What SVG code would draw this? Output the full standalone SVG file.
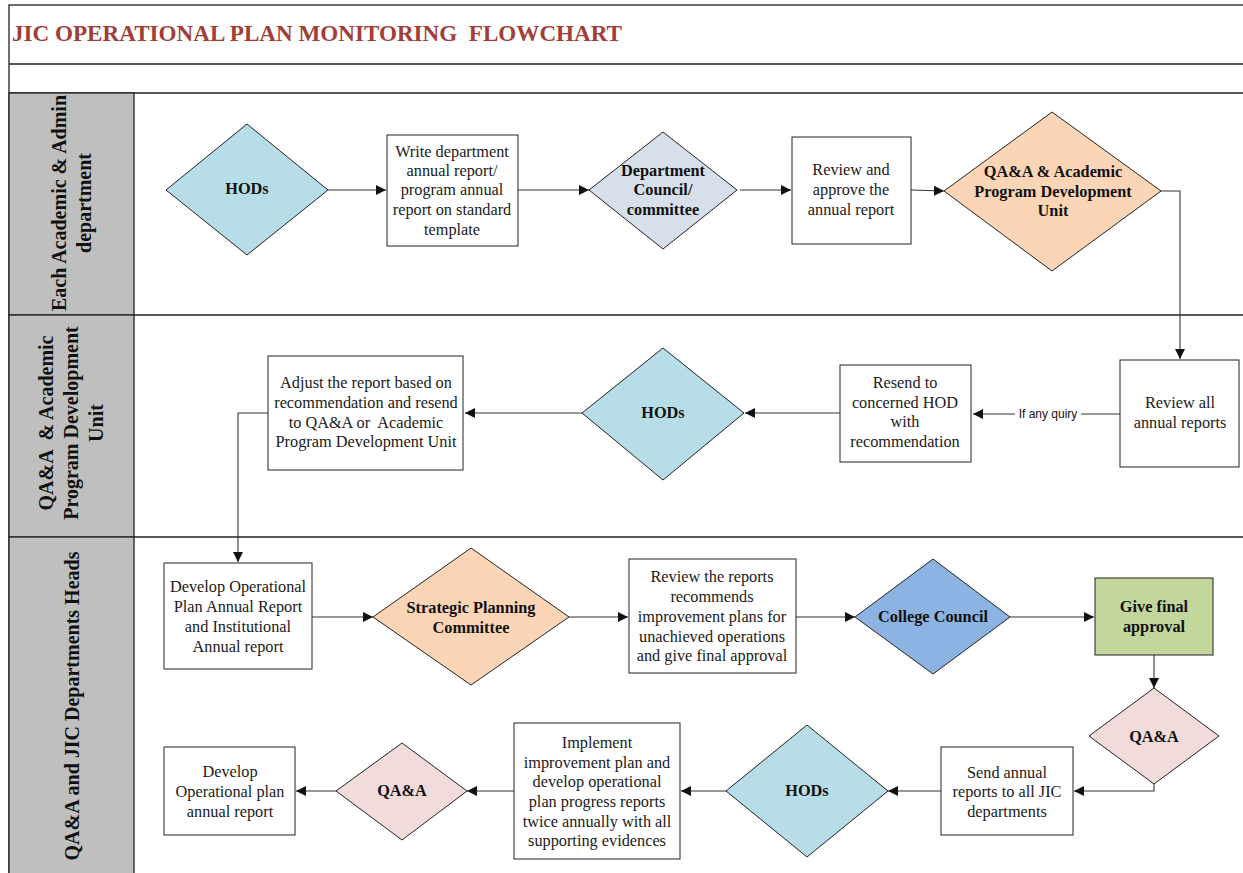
<svg xmlns="http://www.w3.org/2000/svg" width="1243" height="873" viewBox="0 0 1243 873">
<style>
.frame{fill:none;stroke:#222;stroke-width:1.3}
.hdr{fill:#bfbfbf;stroke:#222;stroke-width:1.3}
.box{fill:#fff;stroke:#222;stroke-width:1}
.dia{stroke:#222;stroke-width:1}
.t{font-family:"Liberation Serif","Times New Roman",serif;font-size:16.3px;fill:#1a1a1a;text-anchor:middle}
.b{font-family:"Liberation Serif","Times New Roman",serif;font-size:16.3px;font-weight:bold;fill:#111;text-anchor:middle}
.lane{font-family:"Liberation Serif","Times New Roman",serif;font-size:20px;font-weight:bold;fill:#111;text-anchor:middle}
.title{font-family:"Liberation Serif","Times New Roman",serif;font-size:24px;font-weight:bold;fill:#a23d37}
.lbl{font-family:"Liberation Sans",Arial,sans-serif;font-size:12px;fill:#111;text-anchor:middle}
.c{fill:none;stroke:#333;stroke-width:1.1}
</style>
<defs>
<marker id="arr" viewBox="0 0 10 10" refX="10" refY="5" markerWidth="10" markerHeight="10" markerUnits="userSpaceOnUse" orient="auto">
<path d="M0,0 L10,5 L0,10 Z" fill="#111"/>
</marker>
</defs>
<rect width="1243" height="873" fill="#fff"/>
<g id="frame">
<rect class="frame" x="9" y="5" width="1250" height="880"/>
<line class="frame" x1="9" y1="64" x2="1243" y2="64"/>
<line class="frame" x1="9" y1="93" x2="1243" y2="93"/>
<line class="frame" x1="9" y1="315" x2="1243" y2="315"/>
<line class="frame" x1="9" y1="537" x2="1243" y2="537"/>
<text class="title" x="12" y="41" textLength="610" lengthAdjust="spacingAndGlyphs" xml:space="preserve">JIC OPERATIONAL PLAN MONITORING  FLOWCHART</text>
</g>
<g id="lane-headers">
<rect class="hdr" x="9" y="93" width="125" height="222"/>
<rect class="hdr" x="9" y="315" width="125" height="222"/>
<rect class="hdr" x="9" y="537" width="125" height="340"/>
<text class="lane" transform="translate(72,203) rotate(-90)"><tspan x="0" y="-6">Each Academic &amp; Admin</tspan><tspan x="0" y="19">department</tspan></text>
<text class="lane" transform="translate(72,423) rotate(-90)" xml:space="preserve"><tspan x="0" y="-19">QA&amp;A  &amp; Academic</tspan><tspan x="0" y="6">Program Development</tspan><tspan x="0" y="31">Unit</tspan></text>
<text class="lane" transform="translate(72,706) rotate(-90)"><tspan x="0" y="7">QA&amp;A and JIC Departments Heads</tspan></text>
</g>
<g id="connectors">
<line class="c" x1="328" y1="190" x2="386" y2="190" marker-end="url(#arr)"/>
<line class="c" x1="518" y1="190" x2="589" y2="190" marker-end="url(#arr)"/>
<line class="c" x1="740" y1="190" x2="791" y2="190" marker-end="url(#arr)"/>
<line class="c" x1="911" y1="190" x2="944" y2="191" marker-end="url(#arr)"/>
<polyline class="c" points="1161,191 1180,191 1180,359" marker-end="url(#arr)"/>
<line class="c" x1="1120" y1="414" x2="1081" y2="414"/>
<line class="c" x1="1015" y1="414" x2="973" y2="414" marker-end="url(#arr)"/>
<text class="lbl" x="1048" y="418">If any quiry</text>
<line class="c" x1="840" y1="413" x2="745" y2="413" marker-end="url(#arr)"/>
<line class="c" x1="582" y1="413" x2="465" y2="413" marker-end="url(#arr)"/>
<polyline class="c" points="268,413 238,413 238,562" marker-end="url(#arr)"/>
<line class="c" x1="312" y1="617" x2="373" y2="617" marker-end="url(#arr)"/>
<line class="c" x1="569" y1="617" x2="628" y2="617" marker-end="url(#arr)"/>
<line class="c" x1="796" y1="617" x2="855" y2="617" marker-end="url(#arr)"/>
<line class="c" x1="1010" y1="617" x2="1094" y2="617" marker-end="url(#arr)"/>
<line class="c" x1="1154" y1="655" x2="1154" y2="688" marker-end="url(#arr)"/>
<polyline class="c" points="1154,784 1154,791 1074,791" marker-end="url(#arr)"/>
<line class="c" x1="941" y1="791" x2="888" y2="791" marker-end="url(#arr)"/>
<line class="c" x1="726" y1="791" x2="681" y2="791" marker-end="url(#arr)"/>
<line class="c" x1="514" y1="791" x2="467" y2="791" marker-end="url(#arr)"/>
<line class="c" x1="336" y1="791" x2="296" y2="791" marker-end="url(#arr)"/>
</g>
<g id="hods-1">
<polygon class="dia" points="247,124 328,190 247,255 166,190" fill="#b7dde8"/>
<text class="b" x="247" y="194">HODs</text>
</g>
<g id="write-report">
<rect class="box" x="387" y="135" width="131" height="111"/>
<text class="t"><tspan x="452" y="157">Write department</tspan><tspan x="452" y="176">annual report/</tspan><tspan x="452" y="195">program annual</tspan><tspan x="452" y="215">report on standard</tspan><tspan x="452" y="235">template</tspan></text>
</g>
<g id="dept-council">
<polygon class="dia" points="663,132 737,190 663,249 589,190" fill="#d6dfea"/>
<text class="b"><tspan x="663" y="176">Department</tspan><tspan x="663" y="195">Council/</tspan><tspan x="663" y="215">committee</tspan></text>
</g>
<g id="review-approve">
<rect class="box" x="792" y="137" width="119" height="107"/>
<text class="t"><tspan x="851" y="175">Review and</tspan><tspan x="851" y="195">approve the</tspan><tspan x="851" y="215">annual report</tspan></text>
</g>
<g id="qaa-apdu">
<polygon class="dia" points="1052,112 1161,191 1052,271 944,191" fill="#fbd5b5"/>
<text class="b"><tspan x="1053" y="177">QA&amp;A &amp; Academic</tspan><tspan x="1053" y="197">Program Development</tspan><tspan x="1053" y="216">Unit</tspan></text>
</g>
<g id="review-all">
<rect class="box" x="1120" y="360" width="119" height="107"/>
<text class="t"><tspan x="1180" y="408">Review all</tspan><tspan x="1180" y="428">annual reports</tspan></text>
</g>
<g id="resend">
<rect class="box" x="840" y="365" width="131" height="97"/>
<text class="t"><tspan x="905" y="388">Resend to</tspan><tspan x="905" y="408">concerned HOD</tspan><tspan x="905" y="427">with</tspan><tspan x="905" y="447">recommendation</tspan></text>
</g>
<g id="hods-2">
<polygon class="dia" points="663,348 744,413 663,480 582,413" fill="#b7dde8"/>
<text class="b" x="663" y="418">HODs</text>
</g>
<g id="adjust">
<rect class="box" x="268" y="356" width="195" height="114"/>
<text class="t" xml:space="preserve"><tspan x="366" y="388">Adjust the report based on</tspan><tspan x="366" y="408">recommendation and resend</tspan><tspan x="366" y="428">to QA&amp;A or  Academic</tspan><tspan x="366" y="447">Program Development Unit</tspan></text>
</g>
<g id="develop-op">
<rect class="box" x="164" y="563" width="148" height="106"/>
<text class="t"><tspan x="238" y="592">Develop Operational</tspan><tspan x="238" y="612">Plan Annual Report</tspan><tspan x="238" y="632">and Institutional</tspan><tspan x="238" y="652">Annual report</tspan></text>
</g>
<g id="strategic">
<polygon class="dia" points="471,548 569,617 471,685 373,617" fill="#fbd5b5"/>
<text class="b"><tspan x="471" y="613">Strategic Planning</tspan><tspan x="471" y="633">Committee</tspan></text>
</g>
<g id="review-reports">
<rect class="box" x="629" y="559" width="167" height="114"/>
<text class="t"><tspan x="712" y="582">Review the reports</tspan><tspan x="712" y="602">recommends</tspan><tspan x="712" y="622">improvement plans for</tspan><tspan x="712" y="642">unachieved operations</tspan><tspan x="712" y="661">and give final approval</tspan></text>
</g>
<g id="college-council">
<polygon class="dia" points="933,559 1010,617 933,674 855,617" fill="#8db3e2"/>
<text class="b" x="933" y="622">College Council</text>
</g>
<g id="final-approval">
<rect class="box" x="1095" y="578" width="118" height="77" style="fill:#c3d69b"/>
<text class="b"><tspan x="1154" y="612">Give final</tspan><tspan x="1154" y="632">approval</tspan></text>
</g>
<g id="qaa-1">
<polygon class="dia" points="1154,688 1219,736 1154,784 1089,736" fill="#f2dcdb"/>
<text class="b" x="1154" y="742">QA&amp;A</text>
</g>
<g id="send-annual">
<rect class="box" x="941" y="747" width="132" height="88"/>
<text class="t"><tspan x="1007" y="778">Send annual</tspan><tspan x="1007" y="797">reports to all JIC</tspan><tspan x="1007" y="817">departments</tspan></text>
</g>
<g id="hods-3">
<polygon class="dia" points="807,725 888,791 807,857 726,791" fill="#b7dde8"/>
<text class="b" x="807" y="796">HODs</text>
</g>
<g id="implement">
<rect class="box" x="514" y="723" width="166" height="136"/>
<text class="t"><tspan x="597" y="748">Implement</tspan><tspan x="597" y="768">improvement plan and</tspan><tspan x="597" y="787">develop operational</tspan><tspan x="597" y="807">plan progress reports</tspan><tspan x="597" y="827">twice annually with all</tspan><tspan x="597" y="846">supporting evidences</tspan></text>
</g>
<g id="qaa-2">
<polygon class="dia" points="402,743 467,791 402,840 336,791" fill="#f2dcdb"/>
<text class="b" x="402" y="796">QA&amp;A</text>
</g>
<g id="develop-plan">
<rect class="box" x="164" y="747" width="131" height="88"/>
<text class="t"><tspan x="230" y="777">Develop</tspan><tspan x="230" y="797">Operational plan</tspan><tspan x="230" y="817">annual report</tspan></text>
</g>
</svg>
